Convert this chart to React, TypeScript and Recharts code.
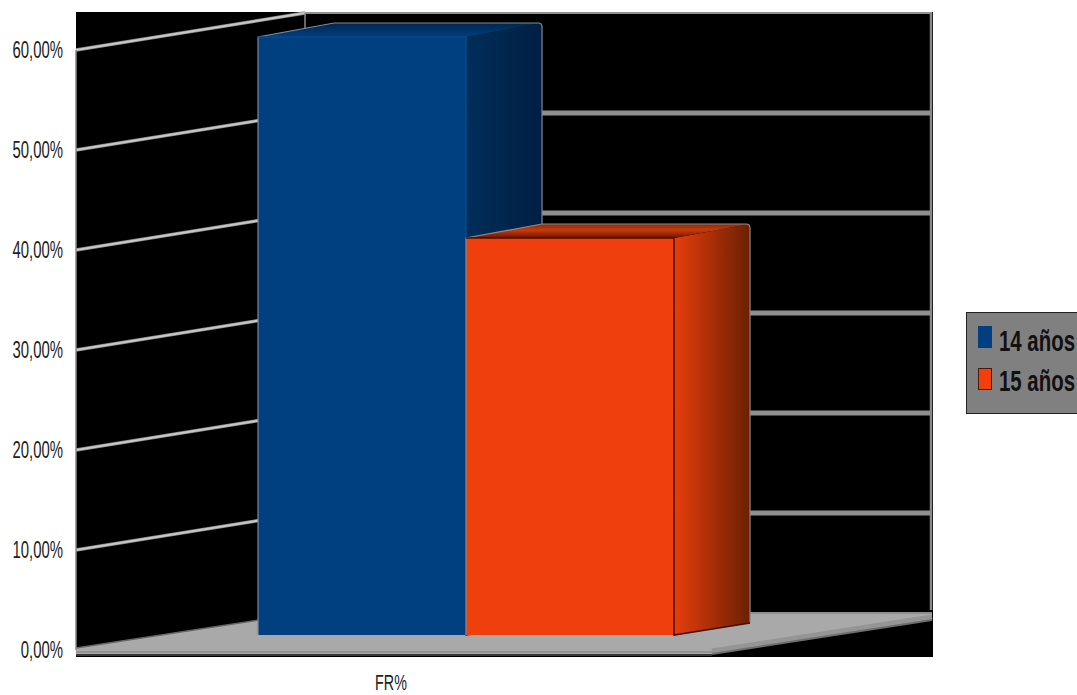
import { BarChart, Bar, XAxis, YAxis, CartesianGrid, Legend } from "recharts";

const categories = ["FR%"];
const seriesNames = ["14 años", "15 años"];
const values14 = [59.8];
const values15 = [39.7];
const yTicks = [0, 10, 20, 30, 40, 50, 60];

const chartData = categories.map((name, i) => ({
  name,
  a: values14[i],
  b: values15[i],
}));

const labelFont = '"Liberation Sans", Arial, sans-serif';

// oblique projection: bars sit a little behind the axis plane
const BAR_SHIFT_X = 72;
const BAR_SHIFT_Y = -15;
const BAR_DEPTH_X = 76;
const BAR_DEPTH_TOP = -14;
const BAR_DEPTH_BOTTOM = -12;
// side wall running from the axis plane to the back wall
const WALL_X = 229;
const WALL_Y = -37;

function pts(list: number[][]) {
  return list.map((p) => p.join(",")).join(" ");
}

function Box3D(props: any) {
  const { x, y, width, height, front, side, top, edge, outline } = props;
  const l = x + BAR_SHIFT_X;
  const r = l + width;
  const t = y + BAR_SHIFT_Y;
  const b = t + height;
  const bx = r + BAR_DEPTH_X;
  const tt = t + BAR_DEPTH_TOP;
  const bb = b + BAR_DEPTH_BOTTOM;
  const back = `M${l},${b} L${l},${t} L${l + BAR_DEPTH_X},${tt} L${bx - 4},${tt} Q${bx},${tt} ${bx},${tt + 4} L${bx},${bb}`;
  return (
    <g>
      <polygon points={pts([[r, t], [bx, tt], [bx, bb], [r, b]])} fill={side} />
      <polygon points={pts([[l, t], [l + BAR_DEPTH_X, tt], [bx, tt], [r, t]])} fill={top} />
      <rect x={l} y={t} width={width} height={height} fill={front} />
      <path d={back} fill="none" stroke={outline} strokeWidth={1.2} />
      <path d={`M${l},${t} L${r},${t} L${r},${b} L${bx},${bb}`} fill="none" stroke={edge} strokeWidth={1.5} />
    </g>
  );
}

// grid callback: each tick gets a sloped wall line and a back wall line
function WallLine(props: any) {
  const { x1, x2, y1, index } = props;
  const wx = x1 + WALL_X;
  const wy = y1 + WALL_Y;
  const isFloor = index === 0;
  const isTop = index === yTicks.length - 1;
  return (
    <g>
      {isFloor && (
        <g>
          <polygon
            points={pts([[x1, y1 - 2], [wx, wy], [x2, wy], [x2, wy + 7], [712, y1 + 4], [x1, y1 + 4]])}
            fill="#a9a9a9"
          />
          <line x1={712} y1={y1 + 1} x2={x2} y2={wy + 4} stroke="#959595" strokeWidth={5} />
          <line x1={x1} y1={y1 + 2} x2={712} y2={y1 + 2} stroke="#8e8e8e" strokeWidth={1.5} />
          <line x1={x1} y1={y1 + 5} x2={712} y2={y1 + 5} stroke="#4a4a4a" strokeWidth={1.5} />
          <line x1={712} y1={y1 + 4} x2={x2} y2={wy + 7} stroke="#6e6e6e" strokeWidth={2} />
          <line x1={x1} y1={y1 - 2} x2={wx} y2={wy} stroke="#666666" strokeWidth={1.5} />
          <line x1={wx} y1={wy} x2={x2} y2={wy} stroke="#8f8f8f" strokeWidth={2} />
        </g>
      )}
      {!isFloor && (
        <g>
          <line x1={x1} y1={y1} x2={wx} y2={wy} stroke="#8a8a8a" strokeWidth={3.5} />
          <line x1={x1} y1={y1} x2={wx} y2={wy} stroke="#c8c8c8" strokeWidth={2} />
          <line x1={wx} y1={wy} x2={x2} y2={wy} stroke="#909090" strokeWidth={isTop ? 2 : 5} />
        </g>
      )}
      {isTop && (
        <g>
          <line x1={x1} y1={y1} x2={x1} y2={650} stroke="#8a8a8a" strokeWidth={1.5} />
          <line x1={wx} y1={wy} x2={wx} y2={wy + 22} stroke="#8a8a8a" strokeWidth={1.5} />
          <line x1={x2 - 1} y1={wy} x2={x2 - 1} y2={wy + 597} stroke="#8a8a8a" strokeWidth={2.5} />
        </g>
      )}
    </g>
  );
}

// the labels use a condensed look, so the glyphs are squeezed horizontally
function NarrowTick(props: any) {
  const { x, y, payload, anchor, offsetX, offsetY, size, squeeze, format } = props;
  return (
    <text
      transform={`translate(${x + offsetX},${y + offsetY}) scale(${squeeze},1)`}
      textAnchor={anchor}
      fontFamily={labelFont}
      fontSize={size}
      fill="#222222"
    >
      {format ? format(payload.value) : payload.value}
    </text>
  );
}

function LegendPanel({ payload }: any) {
  return (
    <div
      style={{
        width: 111,
        height: 102,
        boxSizing: "border-box",
        background: "#808080",
        border: "1px solid #222222",
        borderRight: "none",
        position: "relative",
        overflow: "hidden",
      }}
    >
      {(payload || []).map((item: any, i: number) => (
        <div key={item.value}>
          <div
            style={{
              position: "absolute",
              left: 11,
              top: 13 + i * 42,
              width: 14,
              height: 22,
              boxSizing: "border-box",
              background: item.color,
              border: i === 1 ? "1px solid #4a1a0a" : "none",
            }}
          />
          <div
            style={{
              position: "absolute",
              left: 32,
              top: 11 + i * 40,
              fontFamily: labelFont,
              fontWeight: 700,
              fontSize: 30,
              lineHeight: "34px",
              color: "#111111",
              whiteSpace: "nowrap",
              transform: "scaleX(0.68)",
              transformOrigin: "left center",
            }}
          >
            {item.value}
          </div>
        </div>
      ))}
    </div>
  );
}

const formatPercent = (v: number) => `${v.toFixed(2).replace(".", ",")}%`;

export default function App() {
  return (
    <div style={{ position: "absolute", left: 0, top: 0, width: 1077, height: 695, overflow: "hidden" }}>
      <div style={{ position: "absolute", left: 76, top: 12, width: 857, height: 645, background: "#000000" }} />
      <BarChart
        width={1077}
        height={695}
        data={chartData}
        margin={{ top: 50, right: 34, bottom: 0, left: 0 }}
        barCategoryGap="17.3%"
        barGap={0}
      >
        <defs>
          <linearGradient id="blueSide" x1="0" y1="0" x2="1" y2="0">
            <stop offset="0%" stopColor="#002e5a" />
            <stop offset="100%" stopColor="#001f42" />
          </linearGradient>
          <linearGradient id="blueTop" x1="0" y1="0" x2="0" y2="1">
            <stop offset="0%" stopColor="#00264e" />
            <stop offset="100%" stopColor="#004080" />
          </linearGradient>
          <linearGradient id="redSide" x1="0" y1="0" x2="1" y2="0">
            <stop offset="0%" stopColor="#e63e0c" />
            <stop offset="100%" stopColor="#6a2002" />
          </linearGradient>
          <linearGradient id="redTop" x1="0" y1="0" x2="0" y2="1">
            <stop offset="0%" stopColor="#8a2c08" />
            <stop offset="45%" stopColor="#c83a0c" />
            <stop offset="100%" stopColor="#6a1404" />
          </linearGradient>
        </defs>
        <CartesianGrid vertical={false} horizontal={WallLine} />
        <XAxis
          dataKey="name"
          axisLine={false}
          tickLine={false}
          height={45}
          padding={{ left: 0, right: 220 }}
          tick={<NarrowTick anchor="middle" offsetX={-3} offsetY={32} size={22} squeeze={0.65} />}
        />
        <YAxis
          domain={[0, 60]}
          ticks={yTicks}
          width={76}
          axisLine={false}
          tickLine={false}
          tick={<NarrowTick anchor="end" offsetX={-5} offsetY={8} size={24} squeeze={0.62} format={formatPercent} />}
        />
        <Legend
          layout="horizontal"
          verticalAlign="middle"
          align="right"
          wrapperStyle={{ left: 966, top: 312, right: "auto", bottom: "auto", width: 111, height: 102 }}
          content={<LegendPanel />}
        />
        <Bar
          dataKey="a"
          name={seriesNames[0]}
          fill="#004080"
          isAnimationActive={false}
          shape={(p: any) => (
            <Box3D {...p} front="#004080" side="url(#blueSide)" top="url(#blueTop)" edge="#0a4a86" outline="#7f8a96" />
          )}
        />
        <Bar
          dataKey="b"
          name={seriesNames[1]}
          fill="#f23f0c"
          isAnimationActive={false}
          shape={(p: any) => (
            <Box3D {...p} front="#ee3f0d" side="url(#redSide)" top="url(#redTop)" edge="#4a0e02" outline="#8a8a8a" />
          )}
        />
      </BarChart>
    </div>
  );
}
